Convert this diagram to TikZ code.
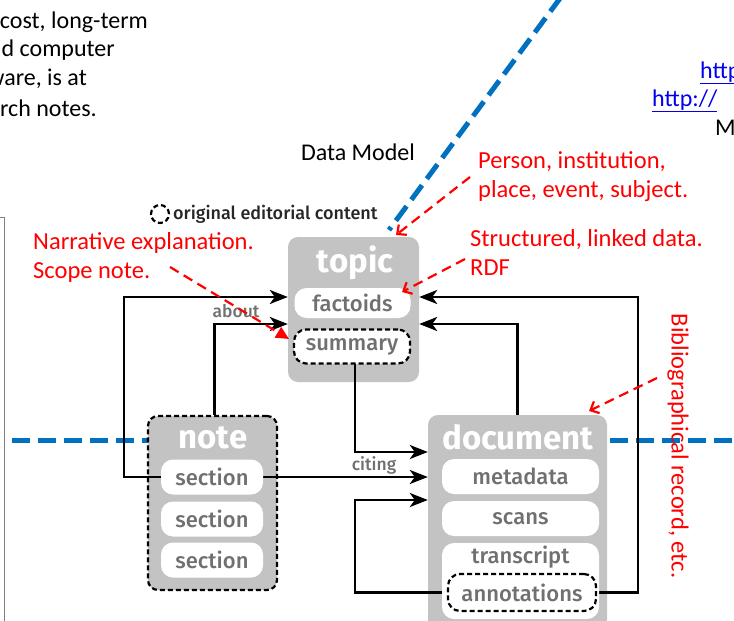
\documentclass[tikz,border=0pt]{standalone}
\usepackage{fontspec}
\setmainfont{Carlito}
\newfontfamily\dgfont{Fira Sans}[UprightFont={* Medium}, BoldFont={* Bold}]
\usetikzlibrary{arrows.meta}
\definecolor{boxgrey}{RGB}{195,195,195}
\definecolor{itemgrey}{RGB}{112,112,112}
\definecolor{linkblue}{RGB}{0,0,238}
\definecolor{divblue}{RGB}{0,112,192}
\definecolor{annred}{RGB}{255,0,0}
\tikzset{
  entity/.style={fill=boxgrey, rounded corners=10pt, inner sep=0pt},
  orig/.style={draw=black, line width=2.2pt, dash pattern=on 5pt off 3pt},
  pill/.style={fill=white, rounded corners=12pt, inner sep=0pt, text=itemgrey,
    font=\dgfont\fontsize{22}{24}\selectfont},
  etitle/.style={text=white, font=\dgfont\bfseries\fontsize{33}{34}\selectfont, inner sep=0pt},
  conn/.style={draw=black, line width=2.6pt, -{Stealth[length=18pt,width=14pt,inset=5pt]}},
  lbl/.style={text=itemgrey, font=\dgfont\fontsize{17.5}{19}\selectfont, inner sep=0pt},
  redtxt/.style={text=annred, font=\fontsize{24.5}{29}\selectfont, align=left, inner sep=0pt},
  redarrow/.style={draw=annred, line width=2.2pt, dash pattern=on 10pt off 6pt,
    -{Straight Barb[length=7pt,width=13pt,line width=2.2pt]}},
  redarrowf/.style={draw=annred, line width=2.2pt, dash pattern=on 10pt off 6pt,
    -{Triangle[length=13pt,width=12pt,fill=annred]}},
  divider/.style={draw=divblue, line width=5pt, dash pattern=on 18pt off 8pt},
  bodytxt/.style={font=\fontsize{24}{29}\selectfont, inner sep=0pt},
}
\begin{document}
\begin{tikzpicture}[x=1pt, y=-1pt]
\useasboundingbox (0,0) rectangle (734,621);
\clip (0,0) rectangle (734,621);

% slide text around the figure
\node[bodytxt, anchor=east] (t1) at (148,22) {cost, long-term};
\node[bodytxt, anchor=east] (t2) at (115,50) {d computer};
\node[bodytxt, anchor=east] (t3) at (87,79) {ware, is at};
\node[bodytxt, anchor=east] (t4) at (97,108) {rch notes.};
\node[bodytxt, anchor=west, text=linkblue] (u1) at (700,73) {\underline{http}};
\node[bodytxt, anchor=west, text=linkblue] (u2) at (652,101) {\underline{http://}};
\node[bodytxt, anchor=west] (m1) at (715,128) {M};
\node[bodytxt] (dm) at (358,152) {Data Model};
\draw[gray, line width=1pt] (-5,217) -- (4,217) -- (4,630);

% blue dividers
\coordinate (dA) at (561,-3);
\coordinate (dB) at (389,230);
\coordinate (hL1) at (12,440);
\coordinate (hL2) at (150,440);
\coordinate (hR1) at (610,440);
\coordinate (hR2) at (740,440);
\draw[divider] (dA) -- (dB);
\draw[divider] (hL1) -- (hL2);
\draw[divider] (hR1) -- (hR2);

% legend
\node[orig, circle, minimum size=18pt, inner sep=0pt] (legc) at (160,214) {};
\node[anchor=west, inner sep=0pt, text=black!85, font=\dgfont\fontsize{18}{20}\selectfont] (legt) at (173,214) {original editorial content};

% entity boxes
\node[entity, minimum width=131pt, minimum height=145pt] (topic) at (353.5,309.5) {};
\node[entity, orig, minimum width=129pt, minimum height=174pt] (note) at (212.5,503) {};
\node[entity, minimum width=179pt, minimum height=215pt] (doc) at (517.5,522.5) {};

% entity titles
\node[etitle] (topicT) at (355,263) {topic};
\node[etitle] (noteT) at (213,438) {note};
\node[etitle] (docT) at (518,437) {document};

% end points on the parts, for the connectors
\coordinate (sec1W) at (161,477);
\coordinate (sec1E) at (263,477);
\coordinate (sumS) at (355,364);
\coordinate (annW) at (447,592.5);
\coordinate (annE) at (597,592.5);

% connectors
\draw[conn] (sec1W) -- ++(-37,0) |- ([yshift=12.5pt]topic.west);
\draw[conn] ([xshift=2pt]note.north) |- ([yshift=-14.5pt]topic.west);
\draw[conn] (sumS) |- ([yshift=70.5pt]doc.west);
\draw[conn] (sec1E) -- (sec1E -| doc.west);
\draw[conn] (annW) -- ++(-92,0) |- ([yshift=22.5pt]doc.west);
\draw[conn] (annE) -- ++(41,0) |- ([yshift=12.5pt]topic.east);
\draw[conn] (doc.north) |- ([yshift=-14.5pt]topic.east);

% parts
\node[pill, minimum width=116pt, minimum height=30pt] (factoids) at (352.5,303) {factoids};
\node[pill, orig, minimum width=116pt, minimum height=34pt] (summary) at (352,346.5) {summary};
\node[pill, minimum width=102pt, minimum height=35pt] (sec1) at (212,477) {section};
\node[pill, minimum width=102pt, minimum height=35pt] (sec2) at (212,519) {section};
\node[pill, minimum width=102pt, minimum height=35pt] (sec3) at (212,560) {section};
\node[pill, minimum width=157pt, minimum height=35pt] (meta) at (520.5,476.5) {metadata};
\node[pill, minimum width=157pt, minimum height=35pt] (scans) at (520.5,518.5) {scans};
\node[pill, minimum width=157pt, minimum height=76pt] (trans) at (520.5,581) {};
\node[pill, anchor=center] (transT) at (520.5,557) {transcript};
\node[pill, orig, minimum width=148pt, minimum height=37pt] (annot) at (522,592.5) {annotations};

% connector labels
\node[lbl] (about) at (236,311) {about};
\node[lbl] (citing) at (374,465) {citing};

% annotations in red
\node[redtxt, anchor=west] (narr) at (33,257) {Narrative explanation.\\Scope note.};
\node[redtxt, anchor=west] (pers) at (478,176.5) {Person, institution,\\place, event, subject.};
\node[redtxt, anchor=west] (struct) at (470,252) {Structured, linked data.\\RDF};
\node[redtxt, rotate=-90] (biblio) at (678,446) {Bibliographical record, etc.};

\coordinate (rA1) at (170,267);
\coordinate (rA2) at (289,339);
\coordinate (rB1) at (470,177);
\coordinate (rB2) at (396,235);
\coordinate (rC1) at (465,259);
\coordinate (rC2) at (402,292);
\coordinate (rD1) at (657,378);
\coordinate (rD2) at (589,411);
\draw[redarrowf] (rA1) -- (rA2);
\draw[redarrow] (rB1) -- (rB2);
\draw[redarrow] (rC1) -- (rC2);
\draw[redarrow] (rD1) -- (rD2);
\end{tikzpicture}
\end{document}
